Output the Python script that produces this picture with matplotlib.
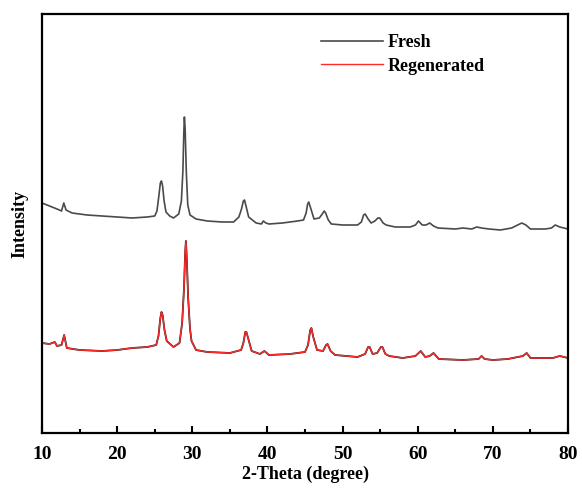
import numpy as np
import matplotlib.pyplot as plt

# XRD patterns (2-theta in degrees, intensity in a.u.)
fresh_2theta = [10, 11, 12, 12.6, 12.9, 13.2, 14, 16, 18, 20, 22, 24, 25, 25.3, 25.55, 25.75, 25.9,
                26.05, 26.25, 26.5, 27, 27.5, 28.2, 28.55, 28.75, 28.87, 28.95, 29.05, 29.2, 29.4,
                29.7, 30.5, 32, 34, 35.5, 36.2, 36.55, 36.8, 36.95, 37.15, 37.5, 38.5, 39.2, 39.45,
                39.8, 40.2, 42, 44, 44.8, 45.15, 45.35, 45.5, 45.75, 46.2, 46.9, 47.3, 47.55, 47.75,
                48.1, 48.5, 50, 52, 52.5, 52.8, 53.0, 53.4, 53.8, 54.3, 54.7, 54.95, 55.4, 55.8,
                57, 59, 59.7, 60.1, 60.6, 61.1, 61.6, 62.1, 62.7, 65, 66, 67.2, 67.85, 68.5, 69.5, 71,
                72.5, 73.3, 73.85, 74.4, 75, 77, 77.8, 78.3, 78.9, 80]
fresh_int = [230, 227, 224, 222, 230, 223, 220, 218, 217, 216, 215, 216, 217, 222, 237, 250, 252,
             247, 232, 221, 217, 215, 219, 232, 262, 300, 316, 304, 262, 228, 218, 214, 212, 211,
             211, 216, 224, 232, 233, 227, 216, 210, 209, 212, 210, 209, 210, 212, 213, 220, 229,
             231, 225, 214, 215, 219, 222, 220, 213, 209, 208, 208, 211, 218, 219, 214, 210, 212,
             215, 215, 210, 208, 206, 206, 208, 212, 208, 208, 210, 207, 205, 204, 205, 204, 206,
             205, 204, 203, 205, 208, 210, 208, 204, 204, 205, 208, 206, 204]

regen_2theta = [10, 11, 11.7, 12, 12.6, 12.95, 13.3, 15, 18, 20, 22, 24, 25.2, 25.5, 25.75, 25.9,
                26.05, 26.3, 26.6, 27.5, 28.3, 28.65, 28.9, 29.05, 29.15, 29.25, 29.45, 29.7, 29.9,
                30.5, 32, 35, 36.5, 36.8, 37.05, 37.2, 37.5, 37.9, 39, 39.6, 40.2, 43, 45, 45.4,
                45.7, 45.85, 46.1, 46.6, 47.4, 47.8, 48.0, 48.4, 49, 52, 53, 53.4, 53.6, 54.0, 54.6,
                55.1, 55.3, 55.7, 56.2, 58, 59.7, 60.4, 61, 61.6, 62.1, 62.8, 66, 68.1, 68.5, 68.9,
                70, 72, 74.0, 74.5, 75, 78, 78.9, 80]
regen_int = [90, 89, 91, 87, 88, 98, 85, 83, 82, 83, 85, 86, 88, 97, 115, 121, 118, 103, 92, 86,
             90, 110, 145, 180, 192, 178, 135, 104, 92, 83, 81, 80, 83, 90, 101, 101, 93, 82, 79,
             82, 78, 79, 81, 88, 103, 105, 96, 83, 82, 88, 89, 82, 78, 76, 79, 86, 86, 79, 80, 86,
             86, 79, 77, 75, 77, 82, 76, 77, 80, 74, 73, 74, 77, 74, 73, 74, 77, 80, 75, 75, 77,
             75]

series_labels = ['Fresh', 'Regenerated']
xticks = [10, 20, 30, 40, 50, 60, 70, 80]

plt.rcParams['font.family'] = ['Liberation Serif', 'DejaVu Serif']
plt.rcParams['font.weight'] = 'bold'

fig = plt.figure(figsize=(5.82, 4.9), dpi=100)
ax = fig.add_axes([42 / 582, 1 - 433 / 490, 526 / 582, 419 / 490])

l_fresh, = ax.plot(fresh_2theta, fresh_int, color='#4a4a4a', lw=1.2)
ax.plot(regen_2theta, regen_int, color='#1a1a1a', lw=1.3)
l_regen, = ax.plot(regen_2theta, regen_int, color='#ff2a2a', lw=1.0)

ax.set_xlim(10, 80)
ax.set_ylim(0, 419)
ax.set_xticks(xticks)
ax.set_xticks(np.arange(15, 80, 10), minor=True)
ax.set_yticks([])
ax.tick_params(axis='x', which='both', direction='in', width=1.5, labelsize=14, pad=9)
ax.tick_params(axis='x', which='major', length=5)
ax.tick_params(axis='x', which='minor', length=3)
for lab in ax.get_xticklabels():
    lab.set_fontweight('bold')
for s in ax.spines.values():
    s.set_linewidth(1.6)

ax.set_xlabel('2-Theta (degree)', fontsize=13, fontweight='bold', labelpad=2)
ax.set_ylabel('Intensity', fontsize=13, fontweight='bold', labelpad=10)

leg = ax.legend([l_fresh, l_regen], series_labels, frameon=False,
                loc='upper left', bbox_to_anchor=(0.5, 0.99), fontsize=13,
                handlelength=3.4, handletextpad=0.3, labelspacing=0.35)
for t in leg.get_texts():
    t.set_fontweight('bold')

fig.savefig('out.png', dpi=100)
